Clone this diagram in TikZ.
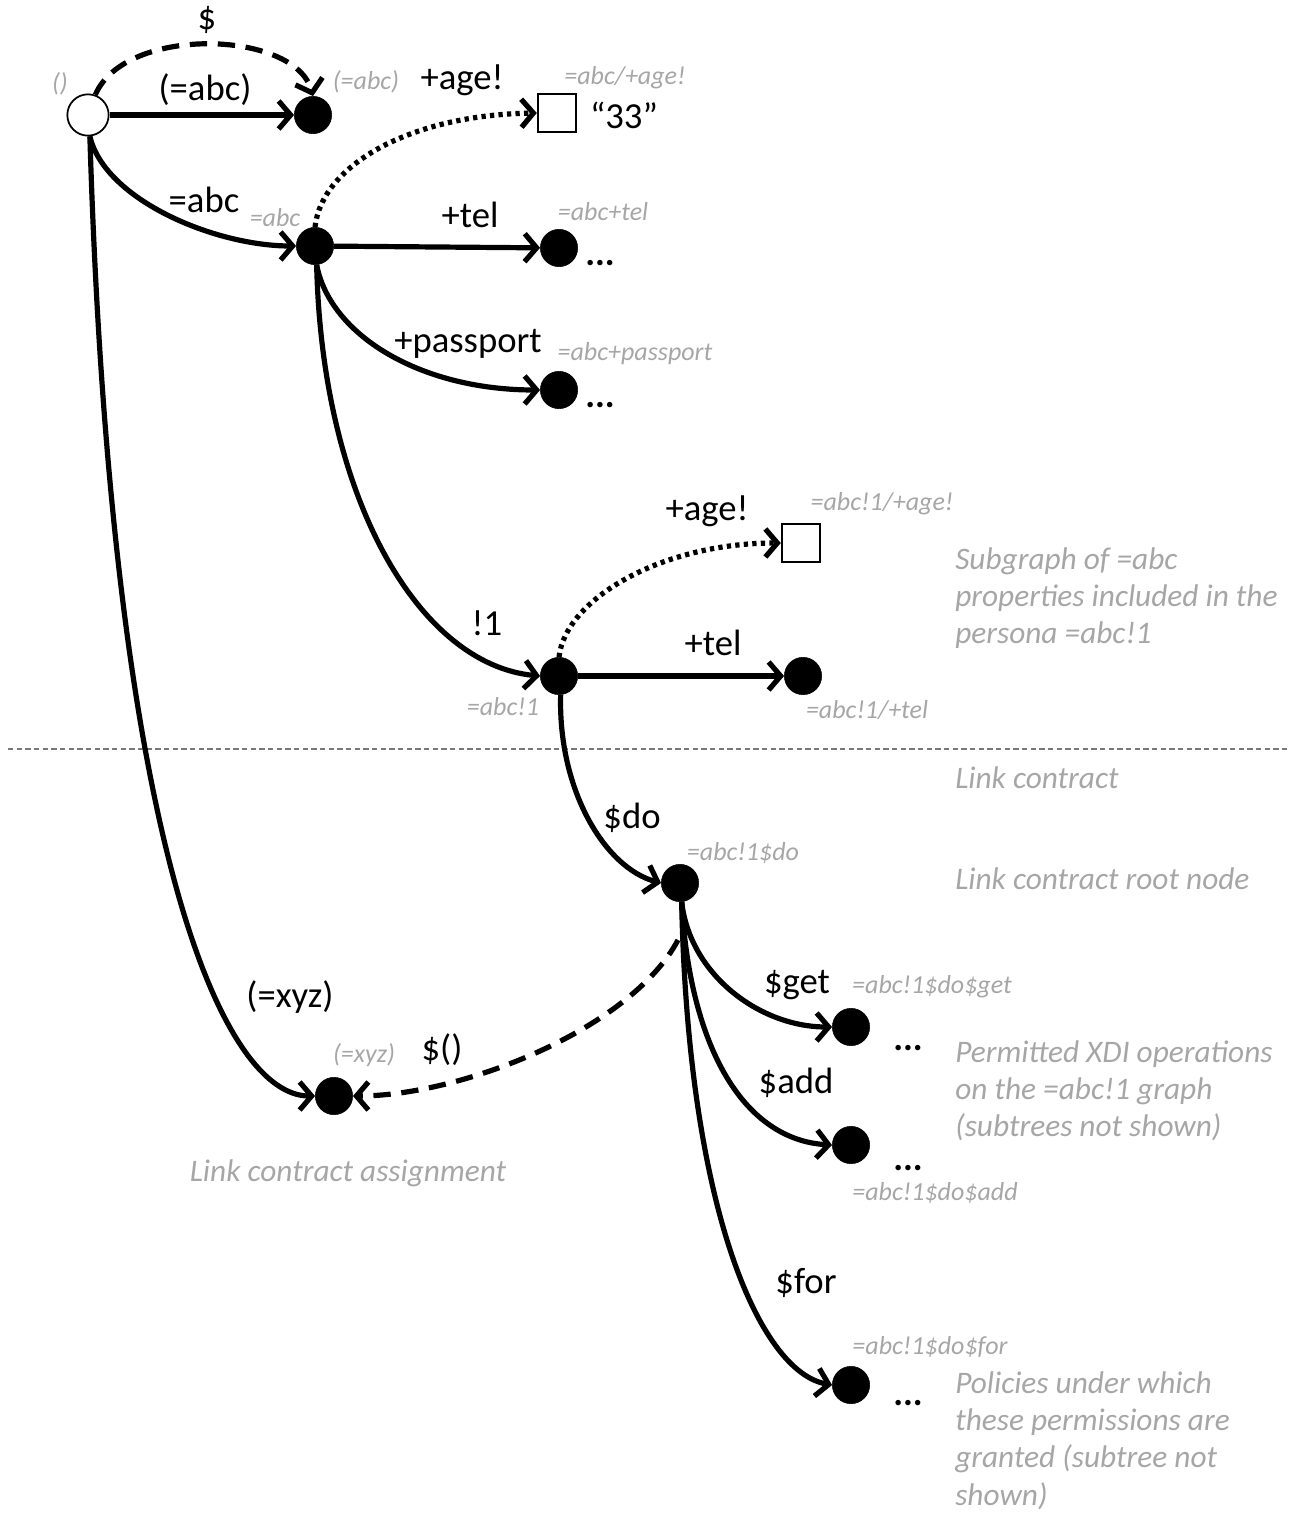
\documentclass[tikz,border=0pt]{standalone}
\usepackage{fontspec}
\setmainfont{Carlito}
\usetikzlibrary{arrows.meta}
\definecolor{lblgray}{RGB}{166,166,166}
\definecolor{sepgray}{RGB}{120,120,120}
\tikzset{
  dot/.style={circle,fill=black,draw=black,minimum size=28pt,inner sep=0pt},
  rootdot/.style={circle,fill=white,draw=black,line width=1.3pt,minimum width=27pt,minimum height=31pt,inner sep=0pt},
  valbox/.style={rectangle,fill=white,draw=black,line width=1.3pt,minimum size=29pt,inner sep=0pt},
  edge/.style={line width=3.9pt,-{Straight Barb[length=9pt,width=21pt]}},
  dashedge/.style={edge,dash pattern=on 13pt off 8pt},
  dotedge/.style={edge,dash pattern=on 3.2pt off 3.2pt},
  lbl/.style={font=\fontsize{27.5}{33}\selectfont,inner sep=0pt},
  ell/.style={font=\fontsize{27.5}{33}\selectfont\bfseries,inner sep=0pt,anchor=base},
  glbl/.style={font=\fontsize{19.5}{23}\selectfont\itshape,text=lblgray,inner sep=0pt},
  note/.style={font=\fontsize{23.5}{28}\selectfont\itshape,text=lblgray,inner sep=0pt,align=left,anchor=north west},
}
\begin{document}
\begin{tikzpicture}[x=0.75pt,y=-0.75pt]
\useasboundingbox (0,0) rectangle (1294,1515);

% separator
\draw[sepgray,line width=0.8pt,dash pattern=on 4pt off 2.5pt] (8,749) -- (1290,749);

% nodes
\node[rootdot] (root) at (88,115) {};
\node[dot] (abcp) at (313,115) {};
\node[valbox] (sq1) at (557,113) {};
\node[dot] (abc) at (315,246) {};
\node[dot] (tel) at (559,248) {};
\node[dot] (pass) at (559,390) {};
\node[valbox] (sq2) at (801,543) {};
\node[dot] (abc1) at (559,676) {};
\node[dot] (tel1) at (803,676) {};
\node[dot] (do) at (680,883) {};
\node[dot] (get) at (851,1027) {};
\node[dot] (add) at (851,1145) {};
\node[dot] (for) at (851,1385) {};
\node[dot] (xyz) at (334,1096) {};
\coordinate (dostart) at (678,940);

% edges
\draw[edge] (root) -- (abcp);
\draw[dashedge] (root.70) .. controls (125,25) and (295,30) .. (abcp.north);
\draw[edge] (root.-85) .. controls (105,200) and (215,246) .. (abc.west);
\draw[edge] (root.-85) .. controls (112,860) and (225,1096) .. (xyz.west);
\draw[dotedge] (abc.north) .. controls (322,165) and (410,115) .. (sq1.west);
\draw[edge] (abc) -- (tel);
\draw[edge] (abc.-85) .. controls (330,335) and (420,390) .. (pass.west);
\draw[edge] (abc.-85) .. controls (322,500) and (420,665) .. (abc1.west);
\draw[dotedge] (abc1.north) .. controls (565,600) and (660,543) .. (sq2.west);
\draw[edge] (abc1) -- (tel1);
\draw[edge] (abc1.-85) .. controls (558,790) and (605,868) .. (do.west);
\draw[edge] (do.-85) .. controls (690,975) and (760,1027) .. (get.west);
\draw[edge] (do.-85) .. controls (690,1050) and (745,1140) .. (add.west);
\draw[edge] (do.-85) .. controls (688,1210) and (760,1372) .. (for.west);
\draw[dashedge] (dostart) .. controls (630,1030) and (460,1096) .. (xyz.east);

% black labels
\node[lbl] (l1) at (207,20) {\$};
\node[lbl] (l2) at (205,90) {(=abc)};
\node[lbl] (l3) at (462,80) {+age!};
\node[lbl] (l4) at (624,115) {“33”};
\node[lbl] (l5) at (204,200) {=abc};
\node[lbl] (l6) at (470,215) {+tel};
\node[ell] (l7) at (600,266) {...};
\node[lbl] (l8) at (468,344) {+passport};
\node[ell] (l9) at (600,407) {...};
\node[lbl] (l10) at (707,511) {+age!};
\node[lbl] (l11) at (487,623) {!1};
\node[lbl] (l12) at (713,643) {+tel};
\node[lbl] (l13) at (632,818) {\$do};
\node[lbl] (l14) at (797,985) {\$get};
\node[ell] (l15) at (908,1050) {...};
\node[lbl] (l16) at (796,1083) {\$add};
\node[ell] (l17) at (908,1170) {...};
\node[lbl] (l18) at (806,1283) {\$for};
\node[ell] (l19) at (908,1405) {...};
\node[lbl] (l20) at (290,997) {(=xyz)};
\node[lbl] (l21) at (442,1050) {\$()};

% gray small labels
\node[glbl] (g1) at (60,84) {()};
\node[glbl] (g2) at (366,82) {(=abc)};
\node[glbl] (g3) at (625,78) {=abc/+age!};
\node[glbl] (g4) at (275,218) {=abc};
\node[glbl] (g5) at (603,212) {=abc+tel};
\node[glbl] (g6) at (635,354) {=abc+passport};
\node[glbl] (g7) at (882,504) {=abc!1/+age!};
\node[glbl] (g8) at (503,707) {=abc!1};
\node[glbl] (g9) at (867,710) {=abc!1/+tel};
\node[glbl] (g10) at (743,853) {=abc!1\$do};
\node[glbl] (g11) at (932,987) {=abc!1\$do\$get};
\node[glbl] (g12) at (935,1193) {=abc!1\$do\$add};
\node[glbl] (g13) at (930,1347) {=abc!1\$do\$for};
\node[glbl] (g14) at (364,1055) {(=xyz)};

% notes
\node[note] (n1) at (955,547) {Subgraph of =abc\\properties included in the\\persona =abc!1};
\node[note] (n2) at (955,766) {Link contract};
\node[note] (n3) at (955,867) {Link contract root node};
\node[note] (n4) at (955,1040) {Permitted XDI operations\\on the =abc!1 graph\\(subtrees not shown)};
\node[note,anchor=center] (n5) at (348,1173) {Link contract assignment};
\node[note] (n6) at (955,1371) {Policies under which\\these permissions are\\granted (subtree not\\shown)};
\end{tikzpicture}
\end{document}
